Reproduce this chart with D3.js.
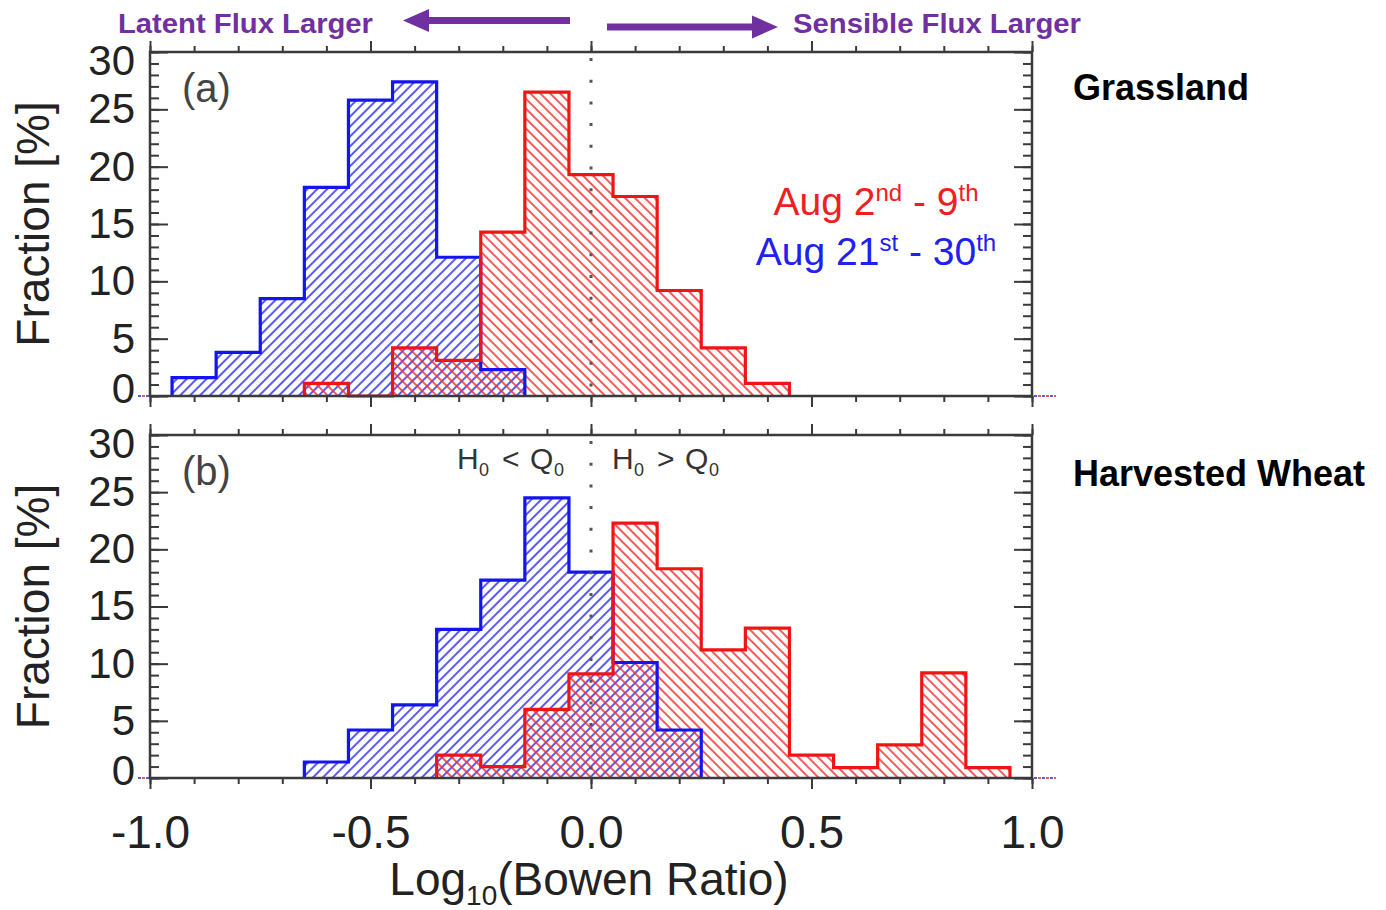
<!DOCTYPE html>
<html>
<head>
<meta charset="utf-8">
<script src="https://cdn.jsdelivr.net/npm/d3@7"></script>
<style>
  body { margin: 0; background: #fff; }
  svg { display: block; font-family: "Liberation Sans", Arial, sans-serif; }
</style>
</head>
<body>
<svg id="chart" width="1386" height="910"></svg>
<script>
// histogram bins (log10 of bowen ratio), 0.1 wide
var binCenters = [-0.9, -0.8, -0.7, -0.6, -0.5, -0.4, -0.3, -0.2, -0.1, 0.0,
                  0.1, 0.2, 0.3, 0.4, 0.5, 0.6, 0.7, 0.8, 0.9];
var binWidth = 0.1;

// fraction [%] per bin
var grassAug2  = [0, 0, 0, 1.1, 0, 4.2, 3.1, 14.3, 26.5, 19.3, 17.4, 9.2, 4.2, 1.1, 0, 0, 0, 0, 0];
var grassAug21 = [1.6, 3.8, 8.5, 18.2, 25.8, 27.4, 12.1, 2.3, 0, 0, 0, 0, 0, 0, 0, 0, 0, 0, 0];
var wheatAug2  = [0, 0, 0, 0, 0, 0, 2.0, 1.0, 6.0, 9.1, 22.3, 18.3, 11.2, 13.1, 2.0, 0.9, 2.9, 9.2, 0.9];
var wheatAug21 = [0, 0, 0, 1.4, 4.2, 6.4, 13.0, 17.3, 24.5, 18.0, 10.1, 4.2, 0, 0, 0, 0, 0, 0, 0];

var xTickLabels = [-1.0, -0.5, 0.0, 0.5, 1.0];
var yTickLabels = [0, 5, 10, 15, 20, 25, 30];

var panels = [
  {top: 52, bottom: 396, red: grassAug2, blue: grassAug21, letter: "(a)", site: "Grassland", siteY: 100},
  {top: 435, bottom: 778, red: wheatAug2, blue: wheatAug21, letter: "(b)", site: "Harvested Wheat", siteY: 486}
];

var left = 150, right = 1032;
var blue = "#1414f0", red = "#f01414", purple = "#7030a0", axisCol = "#3a3a3a";

var svg = d3.select("#chart");
var x = d3.scaleLinear().domain([-1, 1]).range([left, right]);

// hatch patterns
var defs = svg.append("defs");
function hatch(id, angle, color) {
  var p = defs.append("pattern")
    .attr("id", id)
    .attr("patternUnits", "userSpaceOnUse")
    .attr("width", 7).attr("height", 7)
    .attr("patternTransform", "rotate(" + angle + ")");
  p.append("line")
    .attr("x1", 1).attr("y1", 0).attr("x2", 1).attr("y2", 7)
    .attr("stroke", color).attr("stroke-width", 1.6);
}
hatch("hatchBlue", 45, "#3030f4");
hatch("hatchRed", -45, "#f23030");

// build step outline for one histogram
function stepPoints(vals) {
  var first = -1, last = -1;
  vals.forEach(function(v, i) {
    if (v > 0) { if (first < 0) first = i; last = i; }
  });
  var pts = [[binCenters[first] - binWidth / 2, 0]];
  for (var i = first; i <= last; i++) {
    pts.push([binCenters[i] - binWidth / 2, vals[i]]);
  }
  pts.push([binCenters[last] + binWidth / 2, vals[last]]);
  pts.push([binCenters[last] + binWidth / 2, 0]);
  return pts;
}

panels.forEach(function(p) {
  var y = d3.scaleLinear().domain([0, 30]).range([p.bottom, p.top]);
  var g = svg.append("g");
  var line = d3.line()
    .x(function(d) { return x(d[0]); })
    .y(function(d) { return y(d[1]); })
    .curve(d3.curveStepAfter);

  // hatched bars, blue first then red
  [[p.blue, "hatchBlue", blue], [p.red, "hatchRed", red]].forEach(function(s) {
    var pts = stepPoints(s[0]);
    g.append("path").attr("d", line(pts) + "Z")
      .attr("fill", "url(#" + s[1] + ")").attr("stroke", "none");
  });
  [[p.blue, blue], [p.red, red]].forEach(function(s) {
    g.append("path").attr("d", line(stepPoints(s[0])))
      .attr("fill", "none").attr("stroke", s[1])
      .attr("stroke-width", 3.2).attr("stroke-linejoin", "miter");
  });

  // dotted baseline in both colours
  g.append("line").attr("x1", 138).attr("x2", 1056)
    .attr("y1", y(0)).attr("y2", y(0))
    .attr("stroke", blue).attr("stroke-width", 2).attr("stroke-dasharray", "3,5").attr("opacity", 0.7);
  g.append("line").attr("x1", 142).attr("x2", 1056)
    .attr("y1", y(0)).attr("y2", y(0))
    .attr("stroke", red).attr("stroke-width", 2).attr("stroke-dasharray", "3,5").attr("opacity", 0.7);

  // dotted line at zero
  g.append("line").attr("x1", x(0)).attr("x2", x(0))
    .attr("y1", p.top + 6).attr("y2", p.bottom)
    .attr("stroke", "#555").attr("stroke-width", 3).attr("stroke-dasharray", "3,18.7");

  // frame
  g.append("rect").attr("x", left).attr("y", p.top)
    .attr("width", right - left).attr("height", p.bottom - p.top)
    .attr("fill", "none").attr("stroke", axisCol).attr("stroke-width", 2.5);

  // y ticks (inward), minor every 1, major every 5
  var minorY = d3.range(0, 31, 1), majorY = yTickLabels;
  function yAxes(axisFn, xpos) {
    g.append("g").attr("transform", "translate(" + xpos + ",0)")
      .call(axisFn(y).tickValues(minorY).tickSize(-9).tickFormat(""));
    g.append("g").attr("transform", "translate(" + xpos + ",0)")
      .call(axisFn(y).tickValues(majorY).tickSize(-18).tickFormat(""));
  }
  yAxes(d3.axisLeft, left);
  yAxes(d3.axisRight, right);

  // x ticks (outward), minor every 0.1, major every 0.5
  var minorX = d3.range(-10, 11).map(function(d) { return d / 10; });
  [[d3.axisBottom, p.bottom], [d3.axisTop, p.top]].forEach(function(a) {
    g.append("g").attr("transform", "translate(0," + a[1] + ")")
      .call(a[0](x).tickValues(minorX).tickSize(6).tickFormat(""));
    g.append("g").attr("transform", "translate(0," + a[1] + ")")
      .call(a[0](x).tickValues(xTickLabels).tickSize(11).tickFormat(""));
  });

  g.selectAll(".domain").remove();
  g.selectAll(".tick line").attr("stroke", axisCol).attr("stroke-width", 2);

  // y tick labels
  var yl = g.append("g").attr("transform", "translate(" + left + ",0)")
    .call(d3.axisLeft(y).tickValues(yTickLabels).tickSize(0).tickPadding(15));
  yl.select(".domain").remove();
  yl.selectAll("text")
    .attr("font-size", 42).attr("font-family", "Liberation Sans, Arial, sans-serif")
    .attr("fill", "#222")
    .attr("transform", function(d) { return d === 30 ? "translate(0,9)" : d === 0 ? "translate(0,-7)" : null; });

  // axis title
  g.append("text")
    .attr("transform", "translate(49," + (p.top + p.bottom) / 2 + ") rotate(-90)")
    .attr("text-anchor", "middle").attr("font-size", 46).attr("fill", "#222")
    .text("Fraction [%]");

  // panel letter
  g.append("text").attr("x", 182).attr("y", p.top + 50)
    .attr("font-size", 40).attr("fill", "#444").text(p.letter);

  // site name
  svg.append("text").attr("x", 1073).attr("y", p.siteY)
    .attr("font-size", 36).attr("font-weight", "bold").attr("fill", "#000")
    .text(p.site);
});

// x tick labels on lower panel
var xl = svg.append("g").attr("transform", "translate(0," + panels[1].bottom + ")")
  .call(d3.axisBottom(x).tickValues(xTickLabels).tickSize(0).tickPadding(37)
    .tickFormat(d3.format(".1f")));
xl.select(".domain").remove();
xl.selectAll("text").attr("font-size", 46).attr("fill", "#222")
  .attr("font-family", "Liberation Sans, Arial, sans-serif")
  .text(function(d) { return d3.format(".1f")(d).replace("−", "-"); });

// x axis title
var xt = svg.append("text").attr("x", 589).attr("y", 895)
  .attr("text-anchor", "middle").attr("font-size", 46).attr("fill", "#222");
xt.append("tspan").text("Log");
xt.append("tspan").attr("font-size", 28).attr("dy", 10).text("10");
xt.append("tspan").attr("dy", -10).text("(Bowen Ratio)");

// legend
function supText(xc, yb, color, parts) {
  var t = svg.append("text").attr("x", xc).attr("y", yb)
    .attr("text-anchor", "middle").attr("font-size", 39).attr("fill", color);
  var raised = false;
  parts.forEach(function(s, i) {
    var ts = t.append("tspan").text(s);
    if (i % 2 === 1) { ts.attr("font-size", 24).attr("dy", -14); raised = true; }
    else if (raised) { ts.attr("dy", 14); raised = false; }
  });
}
supText(876, 215, "#f02020", ["Aug 2", "nd", " - 9", "th"]);
supText(876, 265, "#2020f0", ["Aug 21", "st", " - 30", "th"]);

// H0 vs Q0 labels, pieces placed one by one
function hq(x0, sign) {
  var t = svg.append("text").attr("y", 469)
    .attr("font-size", 30).attr("fill", "#333");
  t.append("tspan").attr("x", x0).text("H");
  t.append("tspan").attr("x", x0 + 22).attr("font-size", 18).attr("dy", 7).text("0");
  t.append("tspan").attr("x", x0 + 45).attr("dy", -7).text(sign);
  t.append("tspan").attr("x", x0 + 73).text("Q");
  t.append("tspan").attr("x", x0 + 97).attr("font-size", 18).attr("dy", 7).text("0");
}
hq(457, "<");
hq(612, ">");

// top annotation with arrows
svg.append("text").attr("x", 118).attr("y", 33)
  .attr("font-size", 28).attr("font-weight", "bold").attr("fill", purple)
  .attr("textLength", 255).attr("lengthAdjust", "spacingAndGlyphs")
  .text("Latent Flux Larger");
svg.append("text").attr("x", 793).attr("y", 33)
  .attr("font-size", 28).attr("font-weight", "bold").attr("fill", purple)
  .attr("textLength", 288).attr("lengthAdjust", "spacingAndGlyphs")
  .text("Sensible Flux Larger");

svg.append("rect").attr("x", 426).attr("y", 17).attr("width", 144).attr("height", 7).attr("fill", purple);
svg.append("path").attr("d", "M403,20.5 L429,9 L429,32 Z").attr("fill", purple);
svg.append("rect").attr("x", 607).attr("y", 23.5).attr("width", 146).attr("height", 7).attr("fill", purple);
svg.append("path").attr("d", "M778,27 L752,15.5 L752,38.5 Z").attr("fill", purple);
</script>
</body>
</html>
